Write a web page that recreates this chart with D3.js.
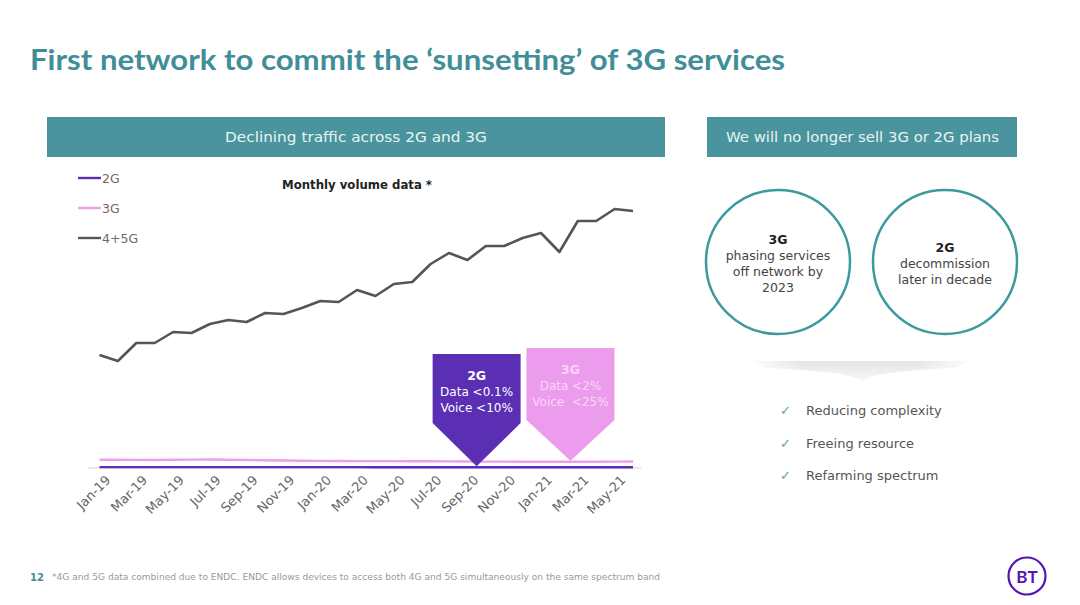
<!DOCTYPE html>
<html><head><meta charset="utf-8">
<script src="https://cdn.jsdelivr.net/npm/d3@7/dist/d3.min.js"></script>
<style>
html,body{margin:0;padding:0;background:#fff;}
svg{display:block;font-family:"DejaVu Sans","Lato",sans-serif;}
</style></head>
<body>
<svg id="c" width="1080" height="605"></svg>
<script>
const months = ["Jan-19","Feb-19","Mar-19","Apr-19","May-19","Jun-19","Jul-19","Aug-19","Sep-19","Oct-19","Nov-19","Dec-19",
"Jan-20","Feb-20","Mar-20","Apr-20","May-20","Jun-20","Jul-20","Aug-20","Sep-20","Oct-20","Nov-20","Dec-20",
"Jan-21","Feb-21","Mar-21","Apr-21","May-21","Jun-21"];
const tickLabels = ["Jan-19","Mar-19","May-19","Jul-19","Sep-19","Nov-19","Jan-20","Mar-20","May-20","Jul-20","Sep-20","Nov-20","Jan-21","Mar-21","May-21"];
const series4G5G = [113,107,125,125,136,135,144,148,146,155,154,160,167,166,178,172,184,186,204,215,208,222,222,230,235,216,247,247,259,257];
const series3G = [8.3,8.2,8.1,8.0,8.2,8.4,8.5,8.3,8.0,7.7,7.5,7.3,7.1,7.0,6.9,6.9,6.9,6.8,6.7,6.6,6.5,6.4,6.4,6.3,6.3,6.2,6.2,6.3,6.4,6.5];
const series2G = [0.9,0.9,0.9,0.9,0.9,0.9,0.9,0.9,0.9,0.9,0.9,0.9,0.9,0.9,0.9,0.8,0.8,0.8,0.8,0.8,0.8,0.8,0.8,0.8,0.8,0.8,0.8,0.8,0.8,0.8];
const seriesNames = ["2G","3G","4+5G"];
const seriesColors = ["#5a2fb3","#ec9eec","#555555"];
const callouts = [
  {label:"2G", lines:["Data <0.1%","Voice <10%"], at:20.5, fill:"#5a2fb3", text:"#ffffff"},
  {label:"3G", lines:["Data <2%","Voice  <25%"], at:25.6, fill:"#ec9cec", text:"#f9d6f6"}
];
const checks = ["Reducing complexity","Freeing resource","Refarming spectrum"];

const svg = d3.select("#c");
const teal = "#4a949e";

function fit(sel, w){ sel.attr("textLength",w).attr("lengthAdjust","spacingAndGlyphs"); return sel; }

// Title
const title = svg.append("text").attr("x",30).attr("y",70)
  .attr("fill","#3f8e98").attr("font-weight","bold").attr("font-size",28).attr("font-family","Lato, sans-serif")
  .text("First network to commit the \u2018sunsetting\u2019 of 3G services");
fit(title,755);

// Header boxes
svg.append("rect").attr("x",47).attr("y",117).attr("width",618).attr("height",40).attr("fill",teal);
fit(svg.append("text").attr("x",225).attr("y",142).attr("fill","#e8f3f4")
  .attr("font-size",14).text("Declining traffic across 2G and 3G"),262);
svg.append("rect").attr("x",707).attr("y",117).attr("width",310).attr("height",40).attr("fill",teal);
fit(svg.append("text").attr("x",726).attr("y",142).attr("fill","#e8f3f4")
  .attr("font-size",14).text("We will no longer sell 3G or 2G plans"),273);

// Scales
const x = d3.scaleLinear().domain([0, months.length-1]).range([99.5, 633]);
const y = d3.scaleLinear().domain([0, 280]).range([468, 188]);

// axis baseline
svg.append("line").attr("x1",88).attr("x2",641).attr("y1",y(0)).attr("y2",y(0))
  .attr("stroke","#e2e2e2").attr("stroke-width",1.5);

// chart title
fit(svg.append("text").attr("x",282).attr("y",189)
  .attr("font-weight","bold").attr("font-size",12).attr("fill","#222").text("Monthly volume data *"),150);

// Lines
const line = d3.line().x((d,i)=>x(i)).y(d=>y(d));
const allSeries = [series2G, series3G, series4G5G];
svg.selectAll("path.series").data(allSeries).join("path").attr("class","series")
  .attr("d",line).attr("fill","none")
  .attr("stroke",(d,i)=>seriesColors[i])
  .attr("stroke-width",(d,i)=> i===2 ? 2.6 : 2.4)
  .attr("stroke-linejoin","round");

// Legend
const lg = svg.append("g");
seriesNames.forEach((n,i)=>{
  const yy = 178 + i*30;
  lg.append("line").attr("x1",78).attr("x2",101).attr("y1",yy).attr("y2",yy)
    .attr("stroke",seriesColors[i]).attr("stroke-width",2.4);
  lg.append("text").attr("x",102).attr("y",yy+4.5).attr("font-size",12.5).attr("fill","#6a6a6a").text(n);
});

// X axis
const tickIdx = tickLabels.map(t=>months.indexOf(t));
const ax = svg.append("g").attr("transform",`translate(0,${y(0)+9})`)
  .call(d3.axisBottom(x).tickValues(tickIdx).tickFormat(i=>months[i]).tickSize(0));
ax.select(".domain").remove();
ax.selectAll("text").attr("font-size",13).attr("fill","#666").attr("font-family","DejaVu Sans, sans-serif")
  .attr("text-anchor","end").attr("dy","0.6em").attr("dx","0.4em")
  .attr("transform","rotate(-45)");

// Callouts
callouts.forEach((c,k)=>{
  const cx = x(c.at);
  const tipVal = k===0 ? series2G[20] : series3G[25];
  const tipY = y(tipVal) - 1;
  const halfW = 44;
  const yTopPx = k===0 ? 354 : 348;
  const rectBottom = k===0 ? 423 : 420;
  const pts = [[cx-halfW, yTopPx],[cx+halfW, yTopPx],[cx+halfW, rectBottom],[cx, tipY],[cx-halfW, rectBottom]];
  svg.append("path").attr("d", d3.line()(pts)+"Z").attr("fill",c.fill);
  const ty = k===0 ? 380 : 374;
  svg.append("text").attr("x",cx).attr("y",ty).attr("text-anchor","middle").attr("fill",c.text)
    .attr("font-weight","bold").attr("font-size",12.5).text(c.label);
  c.lines.forEach((l,j)=>{
    svg.append("text").attr("x",cx).attr("y",ty+16+j*16).attr("text-anchor","middle")
      .attr("fill",c.text).attr("font-size",12).style("white-space","pre").text(l);
  });
});

// Circles
const circles = [
  {cx:778, cy:262, head:"3G", lines:["phasing services","off network by","2023"], hy:244},
  {cx:945, cy:262, head:"2G", lines:["decommission","later in decade"], hy:252}
];
circles.forEach(c=>{
  svg.append("circle").attr("cx",c.cx).attr("cy",c.cy).attr("r",72).attr("fill","#fff")
    .attr("stroke","#3d9a9c").attr("stroke-width",2.5);
  svg.append("text").attr("x",c.cx).attr("y",c.hy).attr("text-anchor","middle").attr("font-weight","bold")
    .attr("font-size",12.5).attr("fill","#222").text(c.head);
  c.lines.forEach((l,j)=>{
    svg.append("text").attr("x",c.cx).attr("y",c.hy+16+j*16).attr("text-anchor","middle")
      .attr("font-size",12.5).attr("fill","#444").text(l);
  });
});

// chevron shadow
const defs = svg.append("defs");
const gr = defs.append("linearGradient").attr("id","sh").attr("x1",0).attr("x2",0).attr("y1",0).attr("y2",1);
gr.append("stop").attr("offset","0").attr("stop-color","#e4e4e4");
gr.append("stop").attr("offset","1").attr("stop-color","#fafafa");
const gh = defs.append("linearGradient").attr("id","shm").attr("x1",0).attr("x2",1);
gh.append("stop").attr("offset","0").attr("stop-color","#fff").attr("stop-opacity",1);
gh.append("stop").attr("offset","0.25").attr("stop-color","#fff").attr("stop-opacity",0);
gh.append("stop").attr("offset","0.75").attr("stop-color","#fff").attr("stop-opacity",0);
gh.append("stop").attr("offset","1").attr("stop-color","#fff").attr("stop-opacity",1);
svg.append("path").attr("d","M752,361 L970,361 L955,368 Q862,372 862,383 Q862,372 767,368 Z").attr("fill","url(#sh)");
svg.append("rect").attr("x",748).attr("y",358).attr("width",226).attr("height",27).attr("fill","url(#shm)");

// check list
checks.forEach((t,i)=>{
  const yy = 415 + i*32.5;
  svg.append("text").attr("x",780).attr("y",yy).attr("font-size",13).attr("fill","#6aa86a").text("\u2713");
  svg.append("text").attr("x",806).attr("y",yy).attr("font-size",13).attr("fill","#555").text(t);
});

// footer
svg.append("text").attr("x",30).attr("y",581).attr("font-weight","bold").attr("font-size",10).attr("fill","#3f8e98").text("12");
fit(svg.append("text").attr("x",52).attr("y",580).attr("font-size",8).attr("fill","#9a9a9a")
  .text("*4G and 5G data combined due to ENDC. ENDC allows devices to access both 4G and 5G simultaneously on the same spectrum band"),608);
svg.append("circle").attr("cx",1027).attr("cy",576).attr("r",18.5).attr("fill","#fff").attr("stroke","#5514b4").attr("stroke-width",2.2);
svg.append("text").attr("x",1027).attr("y",582.5).attr("text-anchor","middle").attr("font-weight","bold")
  .attr("font-size",17).attr("font-family","Lato, sans-serif").attr("fill","#5514b4").text("BT");
</script>
</body></html>
